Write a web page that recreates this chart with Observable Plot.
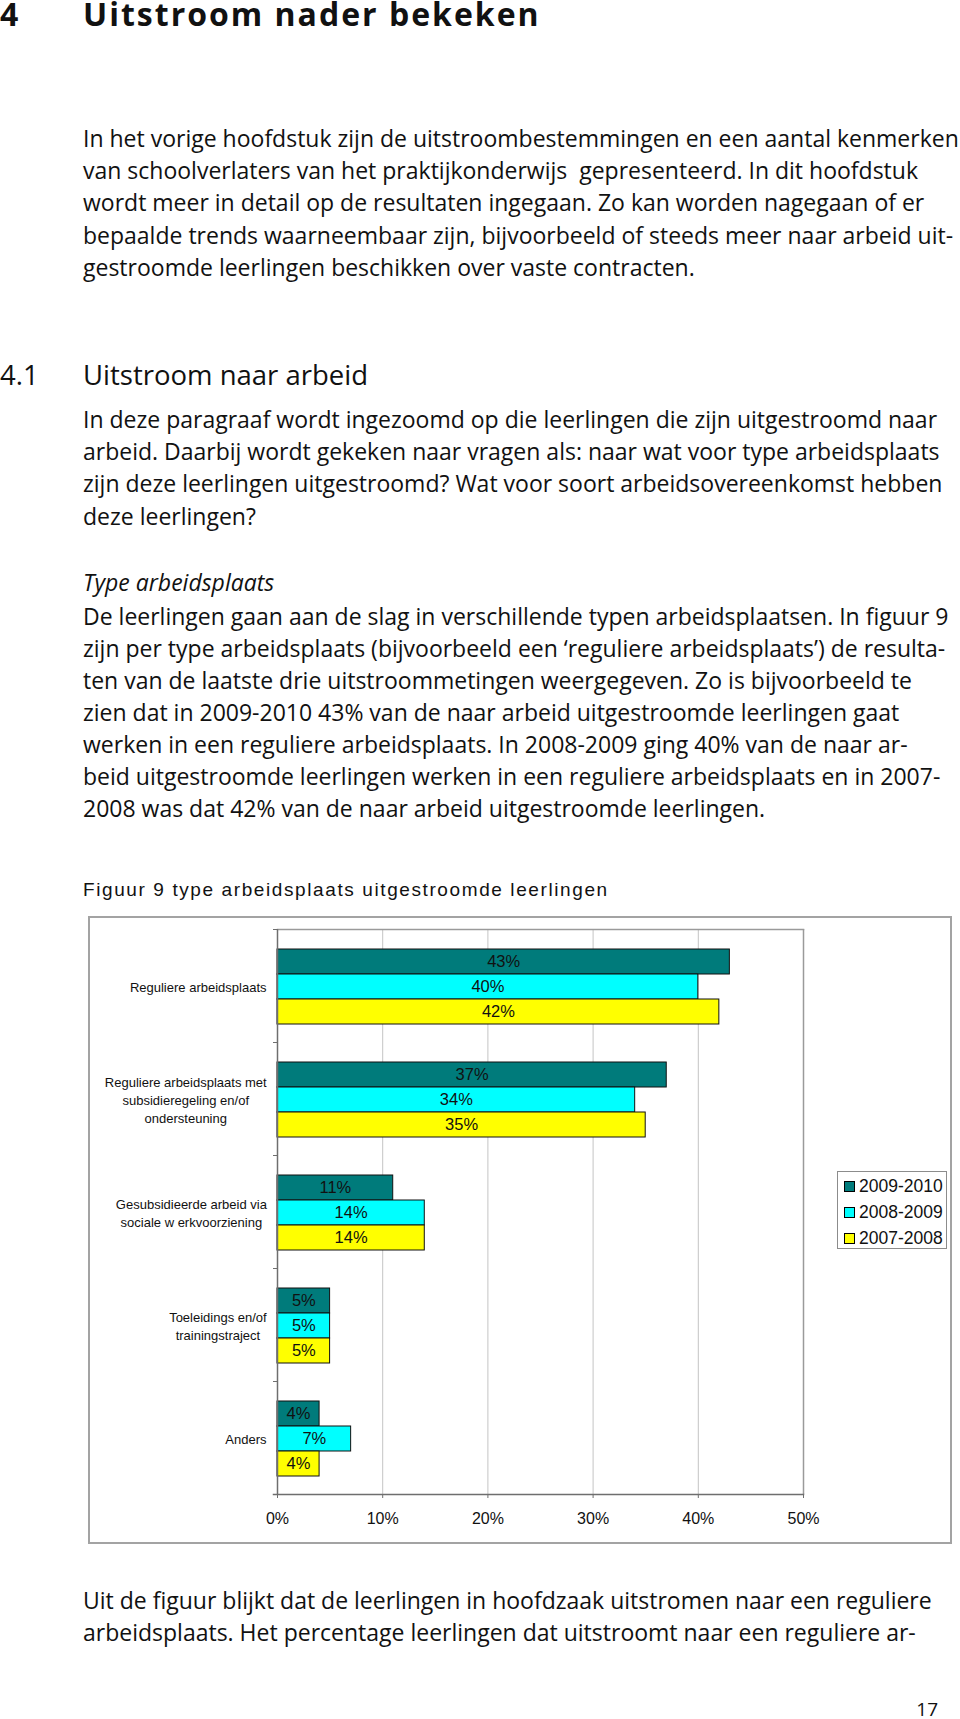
<!DOCTYPE html>
<html>
<head>
<meta charset="utf-8">
<script src="https://cdn.jsdelivr.net/npm/d3@7"></script>
<script src="https://cdn.jsdelivr.net/npm/@observablehq/plot@0.6"></script>
<style>
html, body { margin: 0; padding: 0; background: #fff; }
body { width: 960px; height: 1719px; position: relative; overflow: hidden; font-family: "Open Sans", sans-serif; color: #111; }
.abs { position: absolute; white-space: pre; margin: 0; }
.txt { font-size: 23px; line-height: 32.2px; left: 83px; font-weight: 400; }
.h1 { font-size: 32px; font-weight: 700; line-height: 32px; letter-spacing: 2px; top: -2px; }
.h2 { font-size: 27.5px; line-height: 36px; font-weight: 400; }
.figtitle { font-family: "Liberation Sans", Arial, sans-serif; font-size: 19px; line-height: 20px; letter-spacing: 1.6px; left: 83px; top: 880px; }
#fig { position: absolute; left: 88px; top: 916px; width: 864px; height: 628px; }
#fig .frame { position: absolute; left: 0; top: 0; width: 864px; height: 628px; box-sizing: border-box; border: 2px solid #a3a3a3; }
#fig svg { position: absolute; left: 0; top: 0; }
#legend { position: absolute; left: 749px; top: 255px; width: 110px; height: 78px; box-sizing: border-box; border: 1px solid #8c8c8c; background: #fff; font-family: "Liberation Sans", Arial, sans-serif; font-size: 17.5px; }
#legend .item { position: absolute; left: 0; height: 20px; line-height: 20px; }
#legend .sw { position: absolute; left: 6px; top: 5px; width: 9px; height: 9px; border: 1px solid #000; }
#legend .lab { position: absolute; left: 21px; top: 0; white-space: pre; color: #111; }
</style>
</head>
<body>
<div class="abs h1" style="left:0;">4</div>
<div class="abs h1" style="left:83px;">Uitstroom nader bekeken</div>

<div class="abs txt" style="top:122px;">In het vorige hoofdstuk zijn de uitstroombestemmingen en een aantal kenmerken
van schoolverlaters van het praktijkonderwijs  gepresenteerd. In dit hoofdstuk
wordt meer in detail op de resultaten ingegaan. Zo kan worden nagegaan of er
bepaalde trends waarneembaar zijn, bijvoorbeeld of steeds meer naar arbeid uit-
gestroomde leerlingen beschikken over vaste contracten.</div>

<div class="abs h2" style="left:0;top:357px;">4.1</div>
<div class="abs h2" style="left:83px;top:357px;">Uitstroom naar arbeid</div>

<div class="abs txt" style="top:403px;">In deze paragraaf wordt ingezoomd op die leerlingen die zijn uitgestroomd naar
arbeid. Daarbij wordt gekeken naar vragen als: naar wat voor type arbeidsplaats
zijn deze leerlingen uitgestroomd? Wat voor soort arbeidsovereenkomst hebben
deze leerlingen?</div>

<div class="abs txt" style="top:566px;font-style:italic;">Type arbeidsplaats</div>
<div class="abs txt" style="top:600px;line-height:32px;">De leerlingen gaan aan de slag in verschillende typen arbeidsplaatsen. In figuur 9
zijn per type arbeidsplaats (bijvoorbeeld een ‘reguliere arbeidsplaats’) de resulta-
ten van de laatste drie uitstroommetingen weergegeven. Zo is bijvoorbeeld te
zien dat in 2009-2010 43% van de naar arbeid uitgestroomde leerlingen gaat
werken in een reguliere arbeidsplaats. In 2008-2009 ging 40% van de naar ar-
beid uitgestroomde leerlingen werken in een reguliere arbeidsplaats en in 2007-
2008 was dat 42% van de naar arbeid uitgestroomde leerlingen.</div>

<div class="abs figtitle">Figuur 9 type arbeidsplaats uitgestroomde leerlingen</div>

<div id="fig"><div class="frame"></div></div>

<div class="abs txt" style="top:1584px;">Uit de figuur blijkt dat de leerlingen in hoofdzaak uitstromen naar een reguliere
arbeidsplaats. Het percentage leerlingen dat uitstroomt naar een reguliere ar-</div>

<div class="abs" style="right:22px;top:1697px;font-size:19px;line-height:24px;">17</div>

<script>
// ---- data ----
const categories = [
  "Reguliere arbeidsplaats",
  "Reguliere arbeidsplaats met\nsubsidieregeling en/of\nondersteuning",
  "Gesubsidieerde arbeid via\nsociale w erkvoorziening",
  "Toeleidings en/of\ntrainingstraject",
  "Anders"
];
const series = ["2009-2010", "2008-2009", "2007-2008"];
const seriesColors = ["#007b7b", "#00ffff", "#ffff00"];
const values2009_2010 = [43, 37, 11, 5, 4];
const values2008_2009 = [40, 34, 14, 5, 7];
const values2007_2008 = [42, 35, 14, 5, 4];
const xTicks = [0, 10, 20, 30, 40, 50];
const gridTicks = [10, 20, 30, 40];

const seriesValues = [values2009_2010, values2008_2009, values2007_2008];
const rows = categories.flatMap((c, i) =>
  series.map((s, j) => ({category: c, series: s, value: seriesValues[j][i]}))
);

const W = 864, H = 628, mL = 189, mR = 149, mT = 12, mB = 50;
const plotW = W - mL - mR;

const chart = Plot.plot({
  width: W,
  height: H,
  marginLeft: mL,
  marginRight: mR,
  marginTop: mT,
  marginBottom: mB,
  style: {fontFamily: "'Liberation Sans', Arial, sans-serif", background: "transparent", color: "#111", overflow: "visible"},
  x: {domain: [0, 50], label: null},
  y: {domain: series, paddingInner: 0, paddingOuter: 0.72, align: 0.52, axis: null},
  fy: {domain: categories, padding: 0, axis: null},
  color: {domain: series, range: seriesColors},
  marks: [
    Plot.gridX(gridTicks, {stroke: "#c4c4c4", strokeOpacity: 1}),
    Plot.ruleX([50], {stroke: "#9a9a9a", strokeWidth: 1.5}),
    Plot.frame({anchor: "top", facetAnchor: "top", stroke: "#9a9a9a", strokeWidth: 1.5}),
    Plot.barX(rows, {fy: "category", y: "series", x: "value", fill: "series", stroke: "#111", strokeWidth: 1}),
    Plot.text(rows, Plot.stackX({fy: "category", y: "series", x: "value", text: d => d.value + "%", fontSize: 16.5, fill: "#111"})),
    Plot.ruleX([0], {stroke: "#6e6e6e", strokeWidth: 1.5}),
    Plot.frame({anchor: "top", insetLeft: -4, insetRight: plotW, stroke: "#6e6e6e"}),
    Plot.frame({anchor: "bottom", facetAnchor: "bottom", insetLeft: -4, stroke: "#6e6e6e", strokeWidth: 1.5}),
    Plot.axisX(xTicks, {tickFormat: d => d + "%", tickSize: 4, tickPadding: 14, fontSize: 16, stroke: "#6e6e6e", fill: "#111", label: null}),
    Plot.text(categories, {fy: d => d, text: d => d, frameAnchor: "left", dx: -11, textAnchor: "end", lineAnchor: "middle", fontSize: 13, lineHeight: 1.38, fill: "#111", className: "catlab"})
  ]
});

const fig = document.getElementById("fig");
fig.appendChild(chart);

// center multi-line category labels on their own width (right edge kept)
chart.querySelectorAll(".catlab text").forEach(t => {
  const spans = t.querySelectorAll("tspan");
  if (spans.length > 1) {
    const bb = t.getBBox();
    const cx = bb.x + bb.width / 2;
    t.setAttribute("text-anchor", "middle");
    spans.forEach(s => s.setAttribute("x", cx));
  }
});

// legend
const legend = document.createElement("div");
legend.id = "legend";
series.forEach((s, j) => {
  const item = document.createElement("div");
  item.className = "item";
  item.style.top = (4 + j * 26) + "px";
  const sw = document.createElement("div");
  sw.className = "sw";
  sw.style.background = seriesColors[j];
  const lab = document.createElement("div");
  lab.className = "lab";
  lab.textContent = s;
  item.appendChild(sw);
  item.appendChild(lab);
  legend.appendChild(item);
});
fig.appendChild(legend);
</script>
</body>
</html>
